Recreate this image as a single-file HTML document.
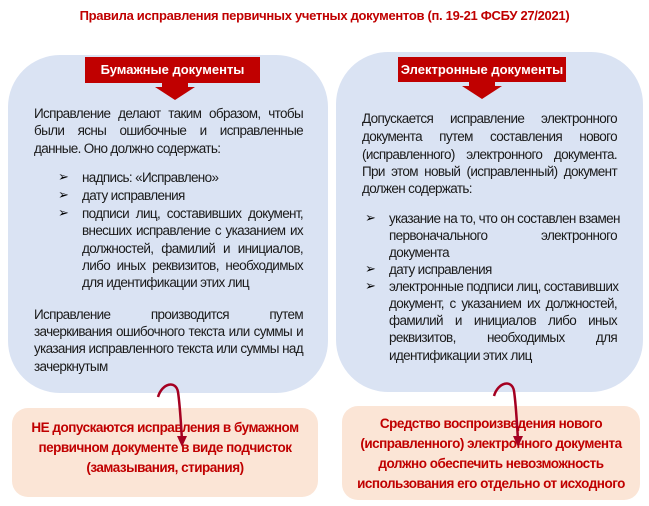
<!DOCTYPE html>
<html><head><meta charset="utf-8"><style>
body{margin:0;width:649px;height:506px;background:#fff;position:relative;overflow:hidden;font-family:"Liberation Sans Narrow","Liberation Sans",sans-serif;}
.a{position:absolute;}
.blob{position:absolute;background:#dae3f3;border-radius:52px;}
.hdr{position:absolute;background:#c00000;color:#fff;font-weight:bold;font-size:13px;text-align:center;line-height:26px;}
.l{position:absolute;height:17px;line-height:17px;font-size:13.5px;color:#1a1a1a;white-space:nowrap;letter-spacing:-0.65px;}
.j{text-align:justify;text-align-last:justify;}
.b{position:absolute;font-size:13px;color:#000;font-family:"DejaVu Sans",sans-serif;line-height:17px;}
.pk{position:absolute;background:#fbe5d6;border-radius:16px;}
.r{position:absolute;color:#c00000;font-weight:bold;font-size:13.5px;text-align:center;white-space:nowrap;letter-spacing:-0.5px;}
</style></head><body>
<div class="a" style="left:0;width:649px;top:8px;text-align:center;color:#c00000;font-weight:bold;font-size:13px;letter-spacing:-0.3px">Правила исправления первичных учетных документов (п. 19-21 ФСБУ 27/2021)</div>

<div class="blob" style="left:8px;top:55px;width:320px;height:338px"></div>
<div class="blob" style="left:336px;top:52px;width:307px;height:340px"></div>

<div class="hdr" style="left:85px;top:57px;width:175px">Бумажные документы</div>
<svg class="a" style="left:150px;top:82px" width="50" height="20"><polygon points="12,0 38,0 38,5 45,5 25,18 5,5 12,5" fill="#c00000"/></svg>
<div class="hdr" style="left:398px;top:57px;width:168px;height:25px;line-height:25px">Электронные документы</div>
<svg class="a" style="left:457px;top:81px" width="50" height="20"><polygon points="12,0 38,0 38,5 45,5 25,18 5,5 12,5" fill="#c00000"/></svg>

<div class="l j" style="left:34px;width:269px;top:105px">Исправление делают таким образом, чтобы</div>
<div class="l j" style="left:34px;width:269px;top:122px">были ясны ошибочные и исправленные</div>
<div class="l" style="left:34px;top:140px">данные. Оно должно содержать:</div>
<div class="b" style="left:58px;top:169px">➢</div><div class="l" style="left:82px;top:169px">надпись: «Исправлено»</div>
<div class="b" style="left:58px;top:187px">➢</div><div class="l" style="left:82px;top:187px">дату исправления</div>
<div class="b" style="left:58px;top:205px">➢</div>
<div class="l j" style="left:82px;width:221px;top:205px">подписи лиц, составивших документ,</div>
<div class="l j" style="left:82px;width:221px;top:222px">внесших исправление с указанием их</div>
<div class="l j" style="left:82px;width:221px;top:240px">должностей, фамилий и инициалов,</div>
<div class="l j" style="left:82px;width:221px;top:257px">либо иных реквизитов, необходимых</div>
<div class="l" style="left:82px;top:274px">для идентификации этих лиц</div>
<div class="l j" style="left:34px;width:269px;top:306px">Исправление производится путем</div>
<div class="l j" style="left:34px;width:269px;top:323px">зачеркивания ошибочного текста или суммы и</div>
<div class="l j" style="left:34px;width:269px;top:340px">указания исправленного текста или суммы над</div>
<div class="l" style="left:34px;top:358px">зачеркнутым</div>

<div class="l j" style="left:362px;width:255px;top:110px">Допускается исправление электронного</div>
<div class="l j" style="left:362px;width:255px;top:128px">документа путем составления нового</div>
<div class="l j" style="left:362px;width:255px;top:146px">(исправленного) электронного документа.</div>
<div class="l j" style="left:362px;width:255px;top:163px">При этом новый (исправленный) документ</div>
<div class="l" style="left:362px;top:180px">должен содержать:</div>
<div class="b" style="left:365px;top:210px">➢</div>
<div class="l j" style="left:389px;width:228px;top:210px">указание на то, что он составлен взамен</div>
<div class="l j" style="left:389px;width:228px;top:227px">первоначального электронного</div>
<div class="l" style="left:389px;top:244px">документа</div>
<div class="b" style="left:365px;top:261px">➢</div><div class="l" style="left:389px;top:261px">дату исправления</div>
<div class="b" style="left:365px;top:278px">➢</div>
<div class="l j" style="left:389px;width:228px;top:278px">электронные подписи лиц, составивших</div>
<div class="l j" style="left:389px;width:228px;top:295px">документ, с указанием их должностей,</div>
<div class="l j" style="left:389px;width:228px;top:312px">фамилий и инициалов либо иных</div>
<div class="l j" style="left:389px;width:228px;top:329px">реквизитов, необходимых для</div>
<div class="l" style="left:389px;top:347px">идентификации этих лиц</div>

<div class="pk" style="left:12px;top:408px;width:306px;height:89px"></div>
<div class="pk" style="left:342px;top:406px;width:298px;height:94px"></div>
<div class="r" style="left:12px;width:306px;top:418px;line-height:20px">НЕ допускаются исправления в бумажном<br>первичном документе в виде подчисток<br>(замазывания, стирания)</div>
<div class="r" style="left:342px;width:298px;top:414px;line-height:20px">Средство воспроизведения нового<br>(исправленного) электронного документа<br>должно обеспечить невозможность<br>использования его отдельно от исходного</div>

<svg class="a" style="left:0;top:0" width="649" height="506">
<path d="M158,397 C162,383 176,380 178,392 C180,405 181,425 182,440" fill="none" stroke="#a50021" stroke-width="2.5"/>
<polygon points="177,436 187,436 182,447" fill="#a50021"/>
<path d="M494,396 C498,382 512,379 514,391 C516,404 517,425 518,440" fill="none" stroke="#a50021" stroke-width="2.5"/>
<polygon points="513,436 523,436 518,447" fill="#a50021"/>
</svg>
</body></html>
